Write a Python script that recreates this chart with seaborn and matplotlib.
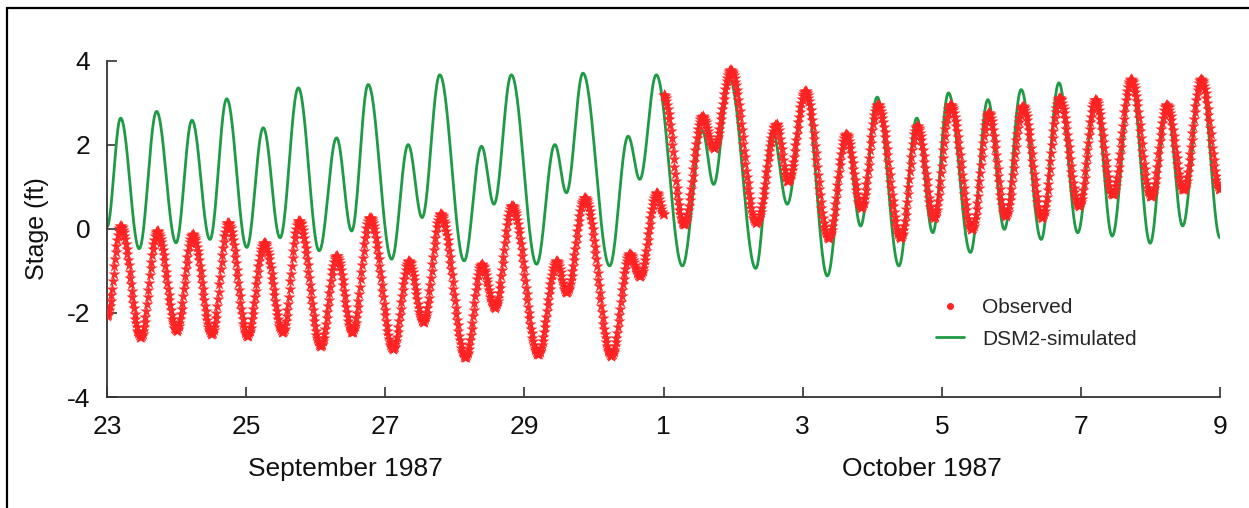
import numpy as np
import pandas as pd
import matplotlib
matplotlib.use("Agg")
import matplotlib.pyplot as plt
import matplotlib.dates as mdates
from matplotlib.lines import Line2D
from matplotlib.ticker import FuncFormatter
import seaborn as sns

# High / low water turning points
# (hours after 23 Sep 1987 00:00, stage in ft)
sim_hours = [0.0, 4.7, 11.1, 17.1, 23.8, 29.3, 35.5, 41.3, 48.2, 53.9, 59.7, 66.0,
             73.2, 79.2, 84.4, 90.1, 98.2, 103.9, 108.7, 114.8, 123.2, 129.2, 133.5,
             139.5, 148.2, 154.5, 158.5, 164.2, 173.4, 179.8, 183.8, 189.5, 198.5,
             205.4, 209.3, 214.8, 223.8, 229.6, 234.7, 240.9, 248.5, 255.0, 260.0,
             265.7, 273.2, 279.4, 284.9, 290.3, 297.9, 303.9, 309.6, 315.4, 322.3,
             328.4, 334.9, 341.0, 346.8, 353.3, 359.9, 365.6, 371.1, 377.5, 384.0]
sim_stage = [0.05, 2.64, -0.47, 2.80, -0.33, 2.59, -0.25, 3.10, -0.44, 2.41, -0.21, 3.36,
             -0.52, 2.17, -0.05, 3.44, -0.72, 2.01, 0.27, 3.67, -0.76, 1.97, 0.59,
             3.67, -0.84, 2.01, 0.86, 3.71, -0.88, 2.21, 1.18, 3.67, -0.88,
             2.33, 1.06, 3.59, -0.94, 2.33, 0.59, 3.32, -1.12, 2.29, 0.07,
             3.14, -0.88, 2.64, -0.09, 3.24, -0.56, 3.08, -0.01, 3.32, -0.25,
             3.48, -0.09, 3.12, -0.17, 3.59, -0.34, 3.00, 0.07, 3.63, -0.21]

obs_sep_hours = [0.0, 4.7, 11.6, 17.3, 24.0, 29.5, 36.1, 41.8, 48.4, 54.2, 60.6, 66.2,
                 73.7, 79.2, 84.6, 90.7, 98.7, 104.1, 109.1, 115.1, 123.7, 129.2, 133.8,
                 139.7, 148.7, 155.1, 158.5, 164.8, 174.0, 180.3, 183.8, 189.7, 192.0]
obs_sep_stage = [-2.07, 0.07, -2.58, -0.05, -2.42, -0.13, -2.50, 0.15, -2.54, -0.33, -2.46, 0.19,
                 -2.78, -0.64, -2.46, 0.27, -2.86, -0.76, -2.22, 0.35, -3.06, -0.84, -1.87,
                 0.55, -2.98, -0.76, -1.51, 0.74, -3.02, -0.60, -1.12, 0.86, 0.35]

obs_oct_hours = [192.0, 199.0, 205.4, 209.3, 215.2, 224.0, 230.9, 234.9, 240.9, 248.9,
                 255.0, 260.2, 265.9, 273.8, 279.5, 285.3, 291.0, 298.4, 304.2, 310.0,
                 316.0, 322.6, 328.6, 335.3, 341.0, 346.9, 353.3, 360.2, 365.6, 371.4,
                 377.5, 384.0]
obs_oct_stage = [3.20, 0.11, 2.68, 1.93, 3.78, 0.15, 2.49, 1.14, 3.28, -0.21,
                 2.25, 0.51, 2.96, -0.21, 2.45, 0.27, 2.96, -0.01, 2.76, 0.31,
                 2.92, 0.27, 3.12, 0.55, 3.08, 0.82, 3.56, 0.78, 2.96, 0.94,
                 3.56, 0.94]

x_ticks_days = [23, 25, 27, 29, 1, 3, 5, 7, 9]
month_labels = ["September 1987", "October 1987"]
START = pd.Timestamp("1987-09-23")


def tide_curve(hours, stage, step=0.25):
    """Smooth half-cosine tidal shape between successive high/low waters."""
    hours = np.asarray(hours, dtype=float)
    stage = np.asarray(stage, dtype=float)
    t = np.arange(hours[0], hours[-1] + 1e-9, step)
    i = np.clip(np.searchsorted(hours, t, side="right") - 1, 0, len(hours) - 2)
    s = (t - hours[i]) / (hours[i + 1] - hours[i])
    v = stage[i] + (stage[i + 1] - stage[i]) * (1 - np.cos(np.pi * s)) / 2
    return START + pd.to_timedelta(t, unit="h"), v


t_sim, v_sim = tide_curve(sim_hours, sim_stage)
t_o1, v_o1 = tide_curve(obs_sep_hours, obs_sep_stage)
t_o2, v_o2 = tide_curve(obs_oct_hours, obs_oct_stage)
sim_df = pd.DataFrame({"time": t_sim, "stage": v_sim})
obs_df = pd.DataFrame({"time": np.concatenate([t_o1, t_o2]),
                       "stage": np.concatenate([v_o1, v_o2])})

sns.set_style("white")
plt.rcParams["font.family"] = ["Liberation Sans", "DejaVu Sans"]
plt.rcParams["axes.unicode_minus"] = False

GREEN = "#1f9a45"
RED = "#ff2222"

fig = plt.figure(figsize=(12.49, 5.08), dpi=100)
ax = fig.add_axes([0.0857, 0.2185, 0.8911, 0.6615])

sns.lineplot(data=sim_df, x="time", y="stage", color=GREEN, linewidth=2.0, ax=ax, zorder=2)
sns.scatterplot(data=obs_df, x="time", y="stage", color=RED, marker="*", s=85,
                linewidth=0, alpha=0.95, ax=ax, zorder=3)

ax.set_xlim(START, START + pd.Timedelta(days=16))
ax.set_ylim(-4, 4)
ax.set_yticks([-4, -2, 0, 2, 4])
ax.xaxis.set_major_locator(mdates.DayLocator(bymonthday=x_ticks_days))
ax.xaxis.set_major_formatter(FuncFormatter(lambda v, pos: str(mdates.num2date(v).day)))

for side in ["top", "right"]:
    ax.spines[side].set_visible(False)
for side in ["left", "bottom"]:
    ax.spines[side].set_color("#333333")
    ax.spines[side].set_linewidth(1.3)
ax.tick_params(axis="both", direction="in", length=7, width=1.2, color="#333333",
               labelsize=19, labelcolor="#111111", bottom=True, left=True)
ax.tick_params(axis="x", pad=13)
ax.tick_params(axis="y", pad=12)

ax.set_xlabel("")
ax.set_ylabel("Stage (ft)", fontsize=18, color="#111111")
ax.yaxis.set_label_coords(-0.052, 0.5)

ax.text(0.214, -0.215, month_labels[0], transform=ax.transAxes, fontsize=19,
        ha="center", va="center", color="#111111")
ax.text(0.732, -0.215, month_labels[1], transform=ax.transAxes, fontsize=19,
        ha="center", va="center", color="#111111")

handles = [
    Line2D([], [], color=RED, marker="o", markersize=4, linestyle="none"),
    Line2D([], [], color=GREEN, linewidth=2.0),
]
ax.legend(handles, ["Observed", "DSM2-simulated"], loc="upper left",
          bbox_to_anchor=(0.745, 0.295), frameon=False, fontsize=15,
          handlelength=1.35, handletextpad=0.85, labelspacing=0.62,
          borderpad=0, borderaxespad=0)

# outer frame visible on the top and left of the original figure
fig.add_artist(Line2D([0.0056, 1.0], [0.984, 0.984], transform=fig.transFigure,
                      color="black", linewidth=1.6))
fig.add_artist(Line2D([0.0056, 0.0056], [0.0, 0.984], transform=fig.transFigure,
                      color="black", linewidth=1.6))

fig.savefig("out.png", dpi=100)
